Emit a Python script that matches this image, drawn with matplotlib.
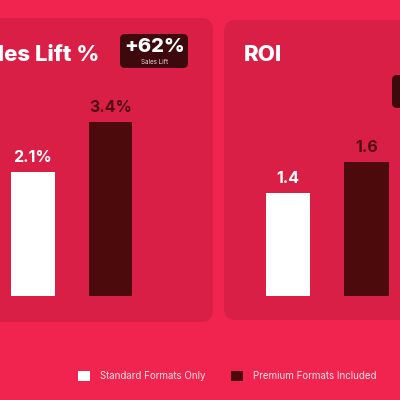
import matplotlib
matplotlib.use("Agg")
import matplotlib.pyplot as plt
from matplotlib.patches import FancyBboxPatch, Patch
import numpy as np

plt.rcParams['font.family'] = ['Inter', 'DejaVu Sans']

# ---- data ----
series_names = ["Standard Formats Only", "Premium Formats Included"]
sales_lift = [2.1, 3.4]
sales_lift_labels = ["2.1%", "3.4%"]
roi = [1.4, 1.6]
roi_labels = ["1.4", "1.6"]
badge_text = "+62%"
badge_sub = "Sales Lift"

BG = "#F0244E"
PANEL = "#D91F45"
DARK = "#4C0A0C"
BADGE = "#3E090D"
WHITE = "#FFFFFF"
bar_colors = [WHITE, DARK]
label_colors = [WHITE, "#520B12"]

W = H = 400
fig = plt.figure(figsize=(4, 4), dpi=100)
fig.patch.set_facecolor(BG)

bg = fig.add_axes([0, 0, 1, 1])
bg.set_xlim(0, W)
bg.set_ylim(H, 0)
bg.axis("off")

# panels
for (x, y, w, h) in [(-30, 18, 243, 304), (224, 20, 220, 300)]:
    bg.add_patch(FancyBboxPatch((x, y), w, h,
                                boxstyle="round,pad=0,rounding_size=12",
                                facecolor=PANEL, edgecolor="none"))

# titles
bg.text(99, 55, "Sales Lift %", ha="right", va="center", fontsize=16,
        fontweight="heavy", color=WHITE)
bg.text(244, 55, "ROI", ha="left", va="center", fontsize=16,
        fontweight="heavy", color=WHITE)

# badges
bg.add_patch(FancyBboxPatch((120, 34), 68, 34,
                            boxstyle="round,pad=0,rounding_size=5",
                            facecolor=BADGE, edgecolor="none"))
bg.text(155, 47.5, badge_text, ha="center", va="center", fontsize=14.5,
        fontweight="heavy", color=WHITE)
bg.text(155, 62, badge_sub, ha="center", va="center", fontsize=4.5,
        color="#F5D5DA")
bg.add_patch(FancyBboxPatch((392, 75), 68, 33,
                            boxstyle="round,pad=0,rounding_size=5",
                            facecolor=BADGE, edgecolor="none"))


def px_axes(x0, x1, y_top, y_bot):
    return fig.add_axes([x0 / W, 1 - y_bot / H, (x1 - x0) / W, (y_bot - y_top) / H])


def draw_bars(ax, vals, labels, base, top):
    ax.set_xlim(-0.5, 1.5)
    ax.set_ylim(base, top)
    ax.patch.set_alpha(0)
    ax.axis("off")
    xs = np.arange(len(vals))
    ax.bar(xs, np.array(vals) - base, bottom=base, width=0.565,
           color=bar_colors, edgecolor="none")
    for i, (v, lab) in enumerate(zip(vals, labels)):
        ax.annotate(lab, (i, v), xytext=(0, 5), textcoords="offset points",
                    ha="center", va="bottom", fontsize=11.5, fontweight="bold",
                    color=label_colors[i])


# left panel bars: 38.5 px per unit, baseline at px 296
axL = px_axes(33 - 38.75, 33 + 116.25, 96, 296)
draw_bars(axL, sales_lift, sales_lift_labels, -1.12, -1.12 + 200 / 38.5)

# right panel bars: 153 px per unit
axR = px_axes(288 - 39.25, 288 + 117.75, 96, 296)
draw_bars(axR, roi, roi_labels, 0.724, 0.724 + 200 / 153)

# legend
handles = [Patch(facecolor=c, edgecolor="none") for c in bar_colors]
fig.legend(handles, series_names, loc="center", ncol=2, frameon=False,
           bbox_to_anchor=(227 / W, 1 - 376 / H), fontsize=7,
           labelcolor="#FFE4EA", handlelength=1.23, handleheight=1.23,
           handletextpad=1.03, columnspacing=2.67, borderaxespad=0)

fig.savefig("out.png", dpi=100, facecolor=BG)
